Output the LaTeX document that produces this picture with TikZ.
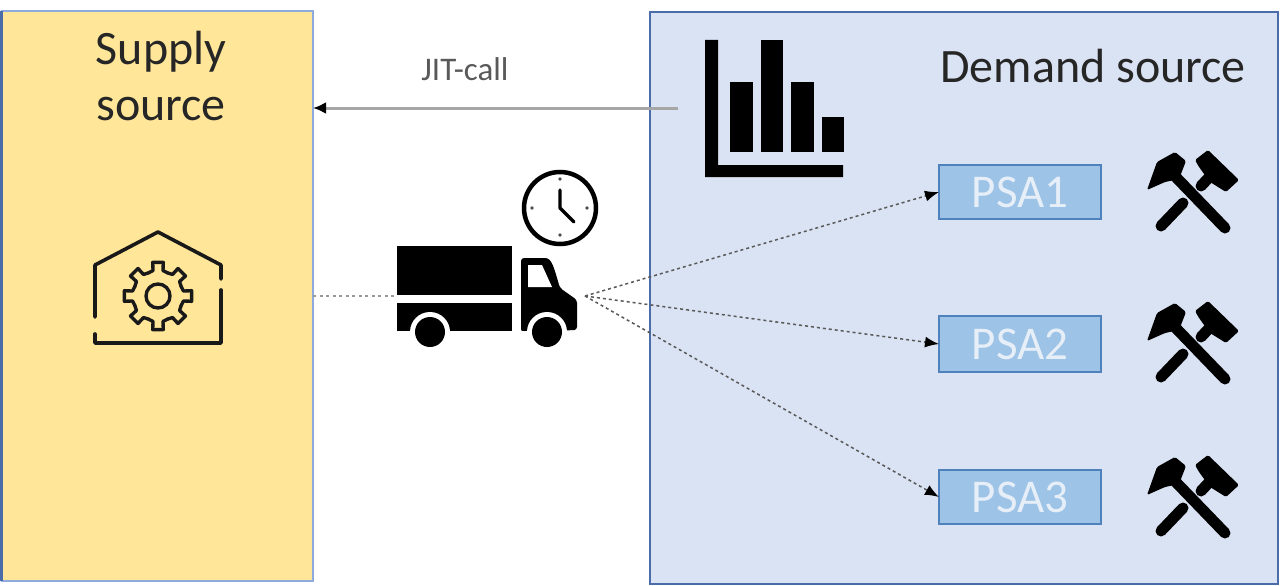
\documentclass[tikz,border=0pt]{standalone}
\usepackage{fontspec}
\setmainfont{Carlito}
\usetikzlibrary{arrows.meta}
\definecolor{supplyfill}{HTML}{FFE699}
\definecolor{supplyline}{HTML}{8FAADC}
\definecolor{demandfill}{HTML}{DAE3F3}
\definecolor{demandline}{HTML}{4A6CA8}
\definecolor{psafill}{HTML}{9DC3E6}
\definecolor{psaline}{HTML}{4F81BD}
\definecolor{psatext}{HTML}{E6EEF8}
\tikzset{
  panel/.style={draw,line width=1.6pt,anchor=north west,inner sep=0pt,outer sep=0pt},
  psabox/.style={draw=psaline,fill=psafill,line width=1.5pt,minimum width=162pt,inner sep=0pt,outer sep=0pt,
    text=psatext,font=\fontsize{47}{47}\selectfont},
  title/.style={text=black!85,font=\fontsize{48}{58}\selectfont,inner sep=0pt},
  call/.style={draw=black!35,line width=3pt,-{Latex[black,length=13pt,width=12pt]}},
  delivery/.style={draw=black!65,line width=1.5pt,dash pattern=on 3pt off 3pt,-{Latex[black,length=14pt,width=11pt]}},
  pics/hammers/.style={code={
    \draw[black,line width=11pt,line cap=round] (-23,-22) -- (32,35);
    \draw[black,line width=11pt,line cap=round] (-32,33) -- (-10,10);
    \draw[black,line width=11pt,line cap=round] (8,-7) -- (22,-22);
    \fill[black,rounded corners=1.5pt] (-46,-3) -- (-36,-31) -- (-18,-41) -- (-7,-32) -- (-14,-14) -- (-28,-11) -- cycle;
    \fill[black,rounded corners=1.5pt] (2,-33) -- (15,-43) -- (46,-13) -- (33,-1) -- (17,-11) -- (6,-26) -- cycle;
  }}
}
\begin{document}
\begin{tikzpicture}[x=1pt,y=-1pt]
\useasboundingbox (0,0) rectangle (1280,586);
% panels
\node[panel,draw=supplyline,fill=supplyfill,minimum width=311pt,minimum height=570pt] (supply) at (2,11) {};
\draw[demandline,line width=2.5pt] (1.5,11) -- (1.5,581);
\node[panel,draw=demandline,fill=demandfill,minimum width=628pt,minimum height=572pt] (demand) at (650,12) {};
% titles
\node[title] (supplyA) at (161,52) {Supply};
\node[title] (supplyB) at (161,109) {source};
\node[title] (demandtitle) at (1093,66) {Demand source};
\node[text=black!65,font=\fontsize{33}{33}\selectfont,inner sep=0pt] (jit) at (465,69) {JIT-call};
% PSA boxes
\node[psabox,minimum height=54pt] (psa1) at (1020,192) {PSA1};
\node[psabox,minimum height=56pt] (psa2) at (1020,344) {PSA2};
\node[psabox,minimum height=54pt] (psa3) at (1020,497) {PSA3};
% chart
\coordinate (chart) at (678,108);
\fill[black] (705,40) -- (718,40) -- (718,165) -- (843,165) -- (843,177) -- (705,177) -- cycle;
\fill[black] (730,82) rectangle (753,152);
\fill[black] (761,40) rectangle (783,152);
\fill[black] (791,82) rectangle (814,152);
\fill[black] (822,117) rectangle (844,152);
% factory
\draw[black!90,line width=3.6pt,line cap=round,line join=round]
  (95,317) -- (95,265) -- (158,232) -- (221,265) -- (221,279);
\draw[black!90,line width=3.6pt,line cap=round,line join=round]
  (221,290) -- (221,343) -- (95,343) -- (95,334);
\begin{scope}[shift={(158,296)},line width=3.4pt,black!90,line cap=round,line join=round]
  \foreach \a in {0,45,...,315}{
    \draw (\a-22.5:25) -- (\a-11:26) -- (\a-9:34) -- (\a+9:34) -- (\a+11:26) -- (\a+22.5:25);
  }
  \draw (0,0) circle (12);
\end{scope}
% truck
\coordinate (truckfront) at (585,296);
\coordinate (truckrear) at (395,296);
\fill[black] (397,246) rectangle (512,295);
\fill[black] (397,303) rectangle (512,331);
\fill[black,rounded corners=3pt] (521,258) -- (542,258) .. controls (552,258) and (554,268) .. (560,288) -- (577,300) -- (577,330) -- (521,332) -- cycle;
\fill[white] (528,265) -- (542,265) -- (552,287) -- (528,287) -- cycle;
\fill[white] (430,332) circle (20);
\fill[white] (547,332) circle (20);
\fill[white] (400,331) rectangle (580,354);
\fill[black] (430,332) circle (15);
\fill[black] (547,332) circle (15);
% clock
\draw[black,line width=4.5pt] (560,208) circle (36);
\draw[black,line width=3.4pt,line cap=round,line join=round] (560,190) -- (560,208) -- (574,222);
\foreach \a/\b in {560/179,560/235,532/208,587/208}{\fill[black!70] (\a,\b) circle (1.8);}
% hammers
\pic at (1193,193) {hammers};
\pic at (1193,344) {hammers};
\pic at (1193,498) {hammers};
% connectors
\draw[call] (chart) -- (supply.east |- chart);
\draw[draw=black!40,line width=2pt,dash pattern=on 3pt off 3.5pt] (supply.east |- truckrear) -- (truckrear);
\draw[delivery] (truckfront) -- (psa1.west);
\draw[delivery] (truckfront) -- (psa2.west);
\draw[delivery] (truckfront) -- (psa3.west);
\end{tikzpicture}
\end{document}
